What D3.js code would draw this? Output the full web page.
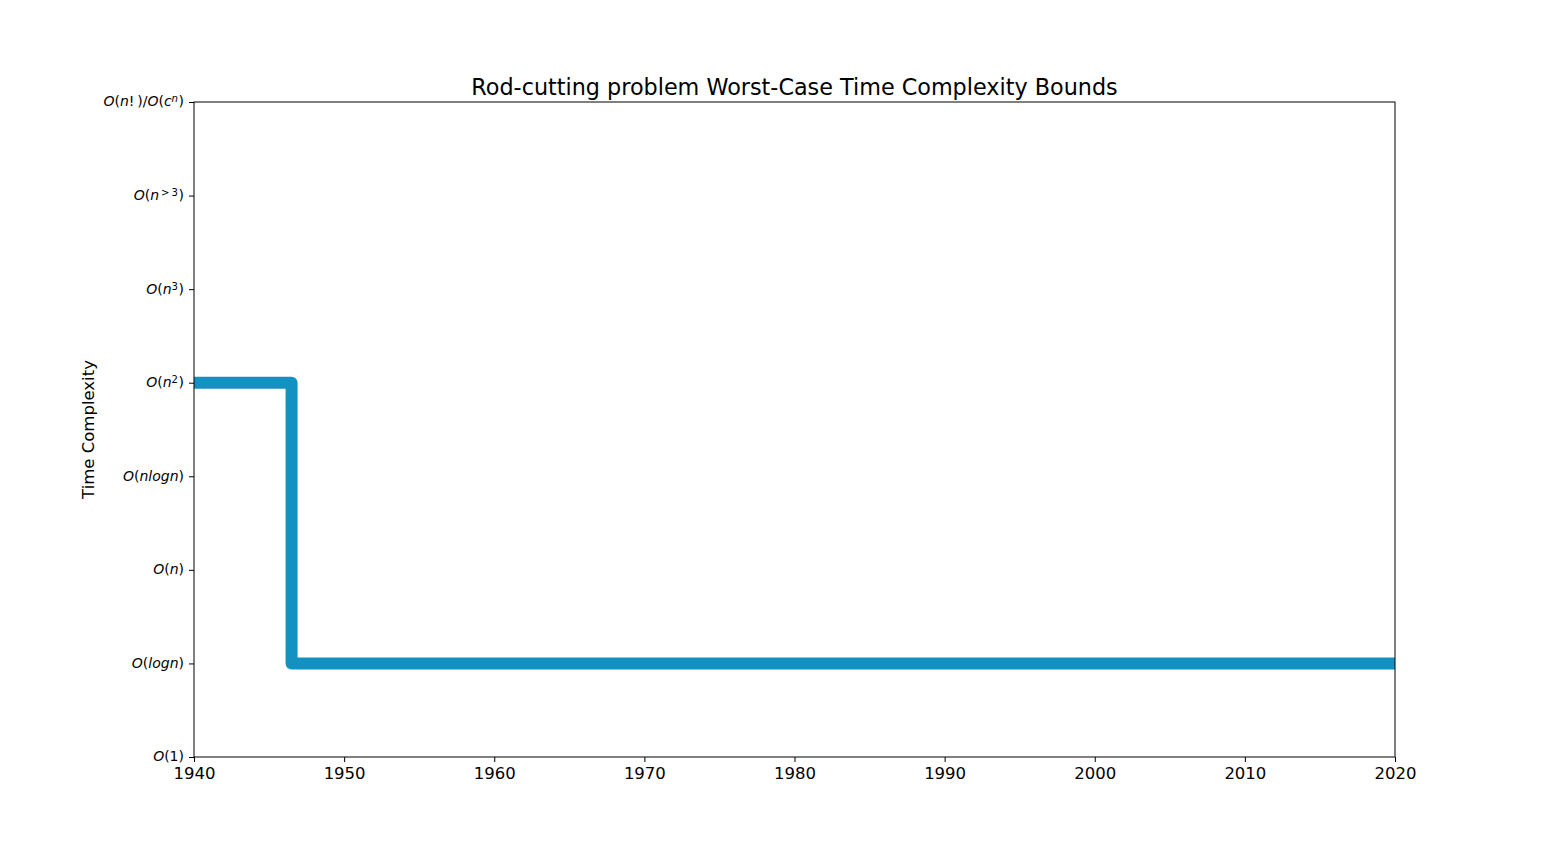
<!DOCTYPE html>
<html>
<head>
<meta charset="utf-8">
<script src="https://cdn.jsdelivr.net/npm/d3@7"></script>
<style>
  body { margin: 0; background: #fff; }
  text { font-family: "DejaVu Sans", sans-serif; fill: #000; }
</style>
</head>
<body>
<div class="chart"></div>
<script>
var svgWidth = 1550;
var svgHeight = 850;

var margin = { top: 102, right: 155, bottom: 93, left: 194 };
var width = svgWidth - margin.left - margin.right;
var height = svgHeight - margin.top - margin.bottom;

// data
var years = [1940, 1946.5, 2020];
var levels = [4, 1, 1];
var yearTicks = [1940, 1950, 1960, 1970, 1980, 1990, 2000, 2010, 2020];
var complexityLabels = ["O(1)", "O(logn)", "O(n)", "O(nlogn)", "O(n^{2})", "O(n^{3})", "O(n^{\u2009>\u20093})", "O(n!\u2009)/O(c^{n})"];

var svg = d3.select(".chart")
  .append("svg")
  .attr("width", svgWidth)
  .attr("height", svgHeight);

var chartGroup = svg.append("g")
  .attr("transform", `translate(${margin.left}, ${margin.top})`);

var xScale = d3.scaleLinear().domain([1940, 2020]).range([0, width]);
var yScale = d3.scaleLinear().domain([0, 7]).range([height, 0]);

svg.append("defs").append("clipPath").attr("id", "clip")
  .append("rect").attr("width", width).attr("height", height);

// step line
var pts = years.map((y, i) => ({ x: y, y: levels[i] }));
chartGroup.append("path")
  .datum(pts)
  .attr("clip-path", "url(#clip)")
  .attr("fill", "none")
  .attr("stroke", "#1391c0")
  .attr("stroke-width", 12)
  .attr("stroke-linejoin", "round")
  .attr("d", d3.line().x(d => xScale(d.x)).y(d => yScale(d.y)).curve(d3.curveStepAfter));

// frame
chartGroup.append("rect")
  .attr("width", width).attr("height", height)
  .attr("fill", "none").attr("stroke", "#000").attr("stroke-width", 1);

// x axis
var bottomAxis = d3.axisBottom(xScale).tickValues(yearTicks).tickFormat(d3.format("d")).tickSize(5).tickPadding(5);
var xg = chartGroup.append("g")
  .attr("transform", `translate(0, ${height})`)
  .call(bottomAxis);
xg.select(".domain").remove();
xg.selectAll("text").attr("font-size", 16.5).attr("font-family", "DejaVu Sans");

// y axis
var leftAxis = d3.axisLeft(yScale).tickValues(d3.range(8)).tickFormat("").tickSize(5);
var yg = chartGroup.append("g").call(leftAxis);
yg.select(".domain").remove();

// mathtext-like labels: letters italic, sup via ^{}
function drawMath(sel, str) {
  var re = /\^\{([^}]*)\}|([A-Za-z]+)|([^A-Za-z^]+)/g, m;
  while ((m = re.exec(str)) !== null) {
    if (m[1] !== undefined) {
      var inner = m[1];
      var t = sel.append("tspan").attr("baseline-shift", "40%").attr("font-size", "72%").text(inner);
      if (/[a-z]/.test(inner)) t.attr("font-style", "italic");
      sel.append("tspan").text("\u200A").attr("font-size", "40%");
    } else if (m[2] !== undefined) {
      sel.append("tspan").attr("font-style", "italic").text(m[2]);
    } else {
      sel.append("tspan").text(m[3]);
    }
  }
}

complexityLabels.forEach(function(lab, i) {
  var t = chartGroup.append("text")
    .attr("x", -10)
    .attr("y", yScale(i))
    .attr("dy", "0.32em")
    .attr("text-anchor", "end")
    .attr("font-size", 14);
  drawMath(t, lab);
});

// title
svg.append("text")
  .attr("x", margin.left + width / 2)
  .attr("y", 95)
  .attr("text-anchor", "middle")
  .attr("font-size", 22.3)
  .text("Rod-cutting problem Worst-Case Time Complexity Bounds");

// y label
svg.append("text")
  .attr("transform", `translate(94, ${margin.top + height / 2}) rotate(-90)`)
  .attr("text-anchor", "middle")
  .attr("font-size", 16.5)
  .text("Time Complexity");
</script>
</body>
</html>
